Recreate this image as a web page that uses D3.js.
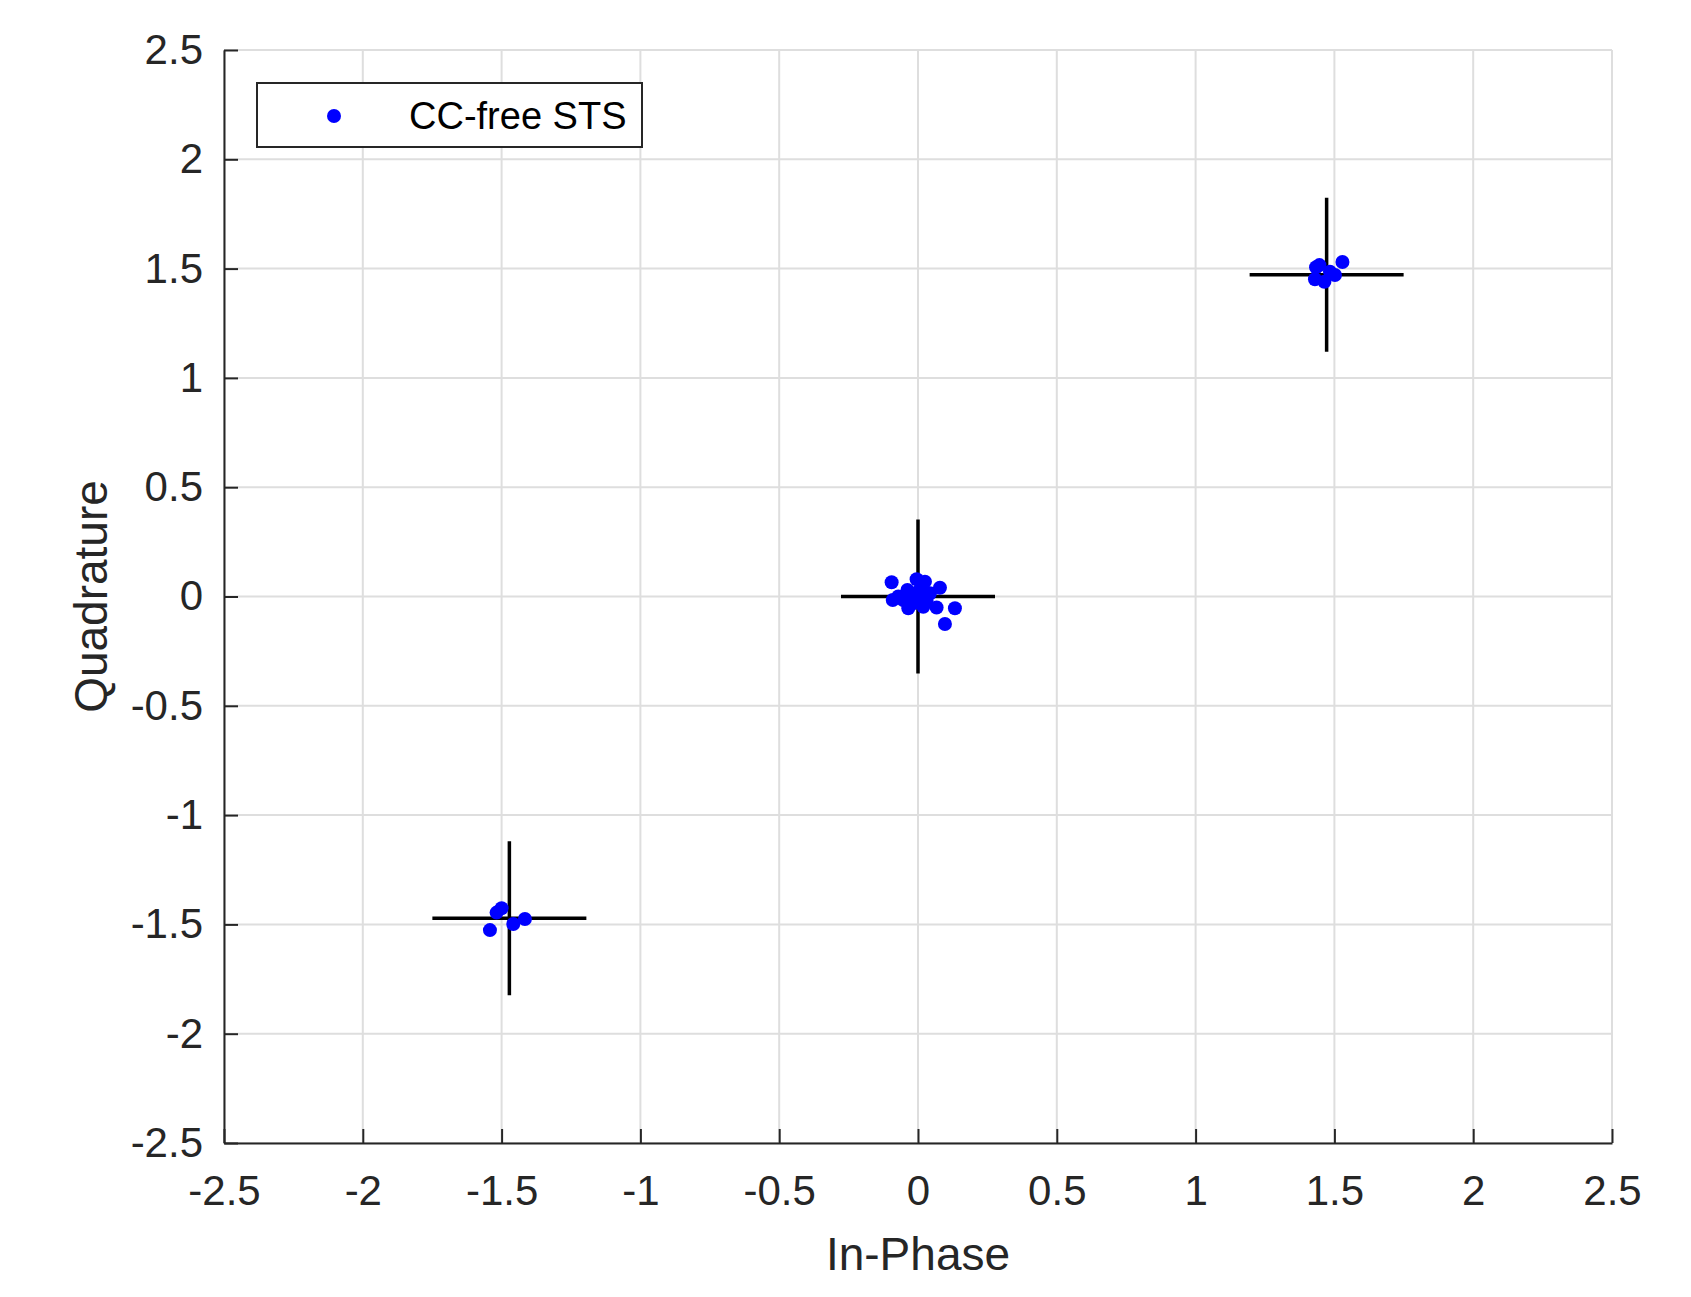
<!DOCTYPE html>
<html>
<head>
<meta charset="utf-8">
<script src="https://cdn.jsdelivr.net/npm/d3@7"></script>
<style>
  body { margin: 0; background: #fff; }
  #canvas { width: 1691px; height: 1297px; }
  text { font-family: "Liberation Sans", Arial, sans-serif; fill: #262626; }
</style>
</head>
<body>
<div id="canvas"></div>
<script>
// reference constellation (STS: sqrt(13/6)*(±1±j) and nulls at 0)
var refI = [-1.472, 0, 1.472];
var refQ = [-1.472, 0, 1.472];

// received symbols
var rxI = [-0.095, -0.091, -0.071, -0.035, -0.038, -0.005, 0.025, 0.079, 0.067, 0.133, 0.097,
           0.007, -0.017, 0.031, 0.043, 0.001, -0.053, 0.019, -0.025, 0.012,
           1.529, 1.434, 1.446, 1.430, 1.464, 1.502, 1.484,
           -1.500, -1.518, -1.416, -1.458, -1.542];
var rxQ = [0.065, -0.016, 0.000, -0.054, 0.030, 0.079, 0.068, 0.040, -0.050, -0.054, -0.126,
           -0.016, -0.031, -0.016, 0.015, 0.022, -0.016, -0.047, 0.010, 0.045,
           1.530, 1.506, 1.516, 1.451, 1.440, 1.471, 1.486,
           -1.426, -1.446, -1.475, -1.498, -1.526];

var tickVals = [-2.5, -2, -1.5, -1, -0.5, 0, 0.5, 1, 1.5, 2, 2.5];
var legendLabel = 'CC-free STS';

var canvasWidth = 1691, canvasHeight = 1297;
var margin = {t:50, r:79, b:154, l:224};
var plotWidth = canvasWidth - margin.l - margin.r,
    plotHeight = canvasHeight - margin.t - margin.b;

var svg = d3.select('#canvas')
    .append('svg')
    .attr('width', canvasWidth)
    .attr('height', canvasHeight);

var plot = svg.append('g')
    .attr('transform', 'translate('+margin.l+','+margin.t+')');

var x = d3.scaleLinear().domain([-2.5, 2.5]).range([0, plotWidth]);
var y = d3.scaleLinear().domain([-2.5, 2.5]).range([plotHeight, 0]);

// grid
plot.append('g').selectAll('line.gx')
    .data(tickVals).enter().append('line')
    .attr('x1', function(d){ return x(d); })
    .attr('x2', function(d){ return x(d); })
    .attr('y1', 0).attr('y2', plotHeight)
    .style('stroke', '#dedede').style('stroke-width', 2);
plot.append('g').selectAll('line.gy')
    .data(tickVals).enter().append('line')
    .attr('y1', function(d){ return y(d); })
    .attr('y2', function(d){ return y(d); })
    .attr('x1', 0).attr('x2', plotWidth)
    .style('stroke', '#dedede').style('stroke-width', 2);

// reference crosses (fixed pixel size)
var half = 77;
refI.forEach(function(ri, i){
    var cx = x(ri), cy = y(refQ[i]);
    plot.append('line')
        .attr('x1', cx - half).attr('x2', cx + half)
        .attr('y1', cy).attr('y2', cy)
        .style('stroke', '#000').style('stroke-width', 3.5);
    plot.append('line')
        .attr('x1', cx).attr('x2', cx)
        .attr('y1', cy - half).attr('y2', cy + half)
        .style('stroke', '#000').style('stroke-width', 3.5);
});

// received points
plot.append('g').selectAll('circle')
    .data(rxI).enter().append('circle')
    .attr('cx', function(d){ return x(d); })
    .attr('cy', function(d, i){ return y(rxQ[i]); })
    .attr('r', 7)
    .style('fill', '#0000ff');

// axes
var xAxis = d3.axisBottom(x).tickValues(tickVals)
    .tickSizeInner(-14).tickSizeOuter(0).tickPadding(32)
    .tickFormat(d3.format('~g'));
var yAxis = d3.axisLeft(y).tickValues(tickVals)
    .tickSizeInner(-14).tickSizeOuter(0).tickPadding(21)
    .tickFormat(d3.format('~g'));

var gx = plot.append('g')
    .attr('transform', 'translate(0,'+plotHeight+')')
    .call(xAxis);
var gy = plot.append('g').call(yAxis);

[gx, gy].forEach(function(g){
    g.selectAll('path, line').style('stroke', '#262626').style('stroke-width', 2);
    g.selectAll('text')
        .style('font-family', '"Liberation Sans", Arial, sans-serif')
        .style('font-size', '42px')
        .style('fill', '#262626')
        .text(function(d){ return d3.format('~g')(d).replace('−', '-'); });
});

// axis labels
svg.append('text')
    .attr('x', margin.l + plotWidth/2)
    .attr('y', 1270)
    .attr('text-anchor', 'middle')
    .style('font-size', '46px')
    .text('In-Phase');

svg.append('text')
    .attr('transform', 'translate(107,'+(margin.t + plotHeight/2)+') rotate(-90)')
    .attr('text-anchor', 'middle')
    .style('font-size', '46px')
    .text('Quadrature');

// legend
var legend = svg.append('g');
legend.append('rect')
    .attr('x', 257).attr('y', 83)
    .attr('width', 385).attr('height', 64)
    .style('fill', '#fff')
    .style('stroke', '#262626')
    .style('stroke-width', 2);
legend.append('circle')
    .attr('cx', 334).attr('cy', 116)
    .attr('r', 7)
    .style('fill', '#0000ff');
legend.append('text')
    .attr('x', 409).attr('y', 129)
    .style('font-size', '38px')
    .style('fill', '#000')
    .text(legendLabel);
</script>
</body>
</html>
